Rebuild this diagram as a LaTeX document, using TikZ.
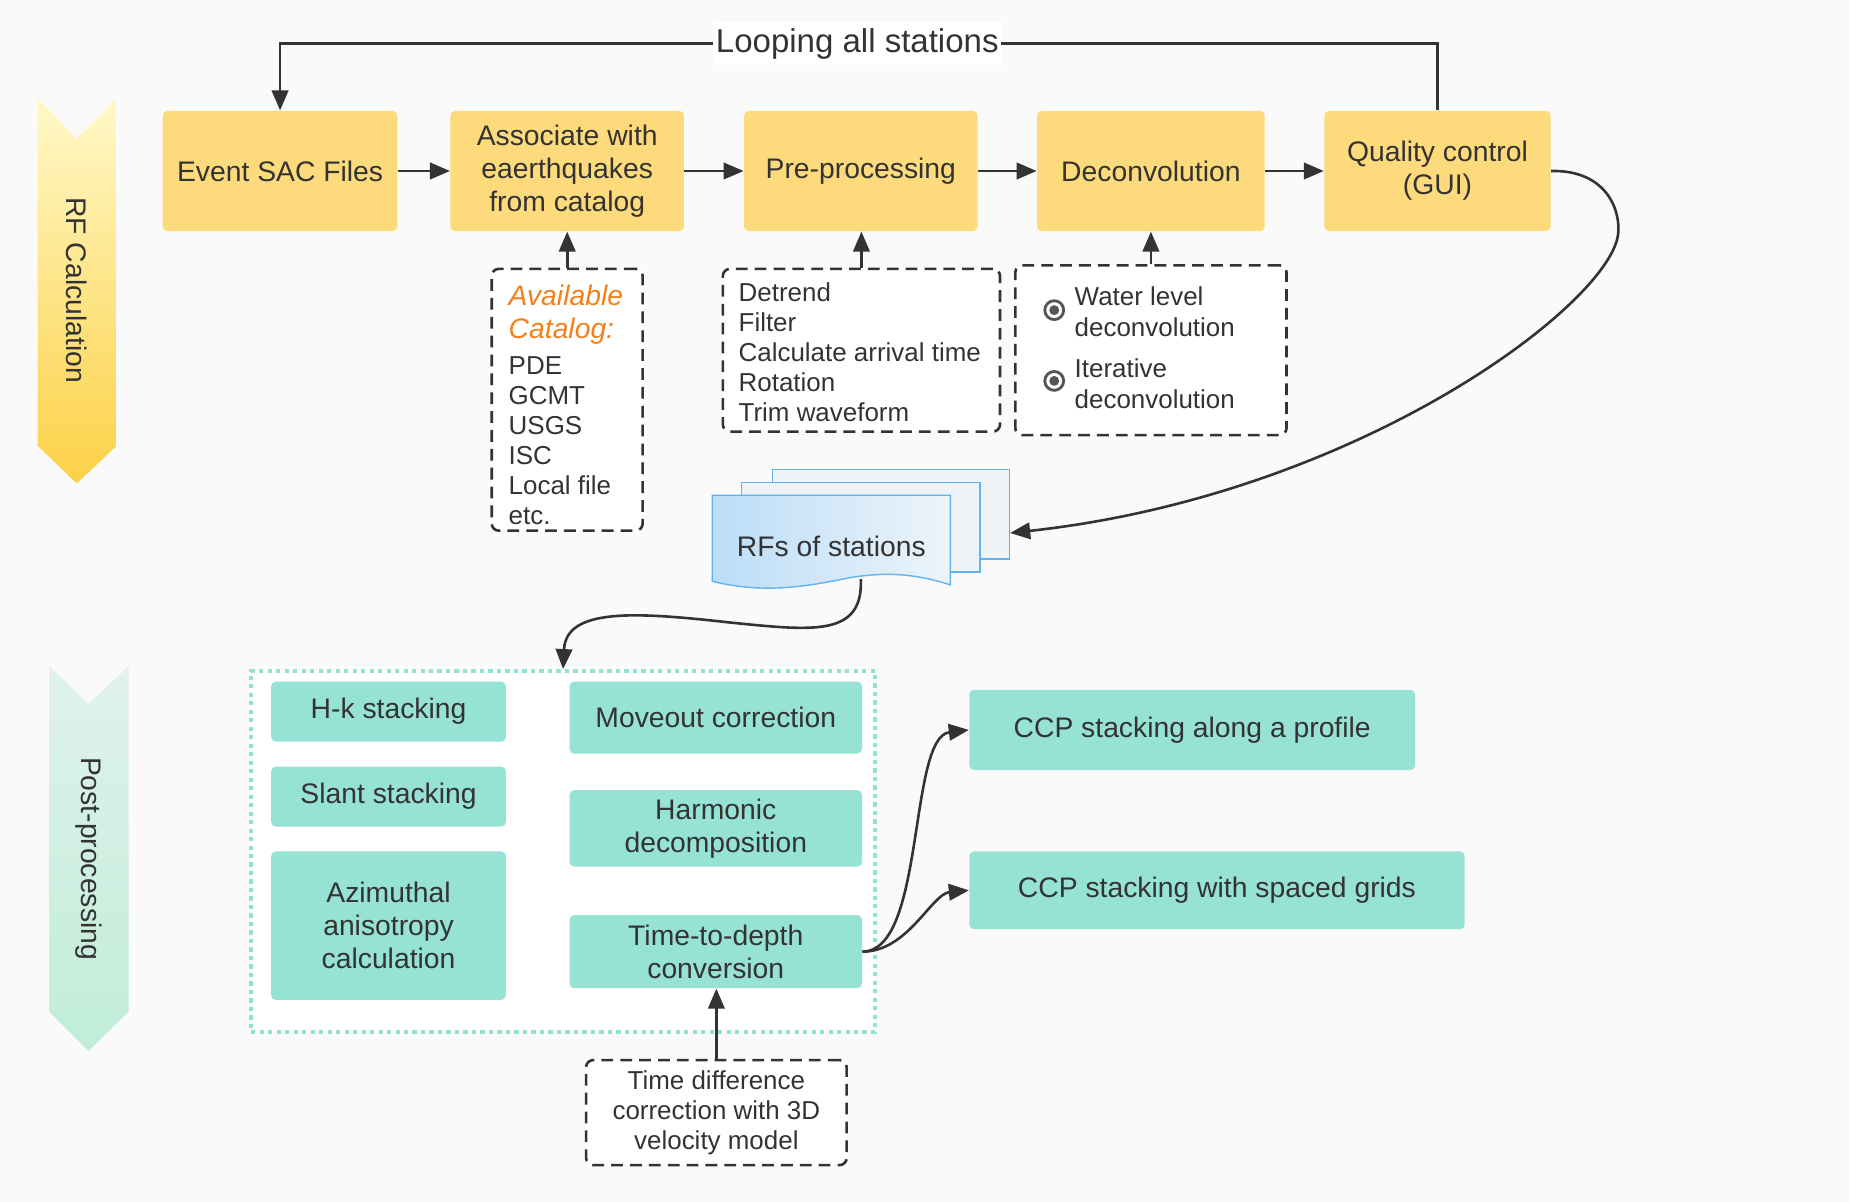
\documentclass[tikz,border=0pt]{standalone}
\usepackage{fontspec}
\setmainfont{Liberation Sans}
\usetikzlibrary{arrows.meta,shapes.geometric}
\definecolor{bg}{HTML}{FAFAFA}
\definecolor{txt}{HTML}{333333}
\definecolor{ybx}{HTML}{FDDA7B}
\definecolor{tl}{HTML}{96E2D4}
\definecolor{org}{HTML}{F2801C}
\definecolor{dotc}{HTML}{8FE2D2}
\definecolor{blu}{HTML}{62B3F2}
\definecolor{sheetc}{HTML}{EEF3F8}
\definecolor{bluL}{HTML}{BBDDF8}
\definecolor{bluR}{HTML}{EDF4FA}
\definecolor{rfT}{HTML}{FFF8C8}
\definecolor{rfB}{HTML}{FCD147}
\definecolor{ppT}{HTML}{E0F2EB}
\definecolor{ppB}{HTML}{C0EDD9}
\definecolor{rad}{HTML}{555555}
\begin{document}
\begin{tikzpicture}[x=0.5pt,y=-0.5pt,
  every node/.style={text=txt},
  ybox/.style={fill=ybx, rounded corners=2pt, align=center, inner sep=0pt, font=\fontsize{12}{14}\selectfont},
  tbox/.style={fill=tl, rounded corners=2pt, align=center, inner sep=0pt, font=\fontsize{12}{14}\selectfont},
  dbox/.style={draw=txt, fill=white, dash pattern=on 5pt off 3pt, line width=1.1pt, rounded corners=3pt, inner sep=0pt, align=center, font=\fontsize{11}{12.75}\selectfont},
  lst/.style={anchor=north west, align=left, inner sep=0pt, font=\fontsize{11}{12.75}\selectfont},
  sheet/.style={fill=sheetc, draw=blu, line width=0.6pt, inner sep=0pt},
  lnk/.style={draw=txt, line width=1.1pt},
  arr/.style={lnk, -{Triangle[length=8.5pt,width=7pt]}},
  radio/.style={circle, draw=rad, line width=1.2pt, fill=white, inner sep=0pt, minimum size=8pt},
  radiodot/.style={circle, fill=rad, inner sep=0pt, minimum size=4.2pt},
  bannertext/.style={rotate=-90, font=\fontsize{12}{14}\selectfont, inner sep=0pt}
]
\useasboundingbox (0,0) rectangle (1568,1019);
\fill[bg] (0,0) rectangle (1568,1019);

% banners
\shade[top color=rfT, bottom color=rfB] (32,83) -- (65,118) -- (99,83) -- (99,378) -- (65,410) -- (32,378) -- cycle;
\node[bannertext] (rfcalc) at (65,246) {RF Calculation};
\shade[top color=ppT, bottom color=ppB] (42,565) -- (75,597) -- (109,565) -- (109,858) -- (75,891) -- (42,858) -- cycle;
\node[bannertext] (postproc) at (75,728) {Post-processing};

% top row
\node[ybox, minimum width=99.5pt, minimum height=51pt] (ev) at (237.5,145) {Event SAC Files};
\node[ybox, minimum width=99pt, minimum height=51pt] (as) at (481,145) {Associate with\\eaerthquakes\\from catalog};
\node[ybox, minimum width=99pt, minimum height=51pt] (pp) at (730,145) {Pre-processing};
\node[ybox, minimum width=96.5pt, minimum height=51pt] (dc) at (976,145) {Deconvolution};
\node[ybox, minimum width=96pt, minimum height=51pt] (qc) at (1219,145) {Quality control\\(GUI)};

\draw[arr] (ev.east) -- (as.west);
\draw[arr] (as.east) -- (pp.west);
\draw[arr] (pp.east) -- (dc.west);
\draw[arr] (dc.east) -- (qc.west);

% loop
\node[fill=white, inner xsep=1pt, inner ysep=0pt, minimum height=18pt, font=\fontsize{14}{16}\selectfont] (lp) at (727,37) {Looping all stations};
\draw[lnk] (qc.north) |- (lp.east);
\draw[arr] (lp.west) -| (ev.north);

% catalog box
\node[dbox, minimum width=64pt, minimum height=111pt] (cb) at (481,339) {};
\node[lst, text=org, font=\itshape\fontsize{12}{14}\selectfont] (cbh) at (431,241) {Available\\Catalog:};
\node[lst] (cbl) at (431,302) {PDE\\GCMT\\USGS\\ISC\\Local file\\etc.};
\draw[arr] (cb.north) -- (as.south);

% preprocessing list
\node[dbox, minimum width=117.5pt, minimum height=69pt] (pb) at (730.5,297) {};
\node[lst] (pbl) at (626,239) {Detrend\\Filter\\Calculate arrival time\\Rotation\\Trim waveform};
\draw[arr] (pb.north) -- (pb.north |- pp.south);

% deconvolution options
\node[dbox, minimum width=115pt, minimum height=72pt] (db) at (976,297) {};
\node[radio] (r1) at (894,263) {};
\node[radiodot] (r1d) at (894,263) {};
\node[radio] (r2) at (894,323) {};
\node[radiodot] (r2d) at (894,323) {};
\node[lst, font=\fontsize{11}{13}\selectfont] (o1) at (911,243) {Water level\\deconvolution};
\node[lst, font=\fontsize{11}{13}\selectfont] (o2) at (911,304) {Iterative\\deconvolution};
\draw[arr] (db.north) -- (dc.south);

% RFs of stations
\node[sheet, minimum width=100.5pt, minimum height=38pt] (rf3) at (755.5,436) {};
\node[sheet, minimum width=101pt, minimum height=38pt] (rf2) at (730,447) {};
\path[draw=blu, line width=0.6pt, left color=bluL, right color=bluR]
  (604,420) -- (806,420) -- (806,496) .. controls (775,486) and (750,485) .. (720,490)
  .. controls (685,497) and (650,504) .. (604,493) -- cycle;
\node[font=\fontsize{12}{14}\selectfont, inner sep=0pt] (rf) at (705,463) {RFs of stations};
\coordinate (rfo) at (730,491);

\draw[arr] (qc.east) .. controls (1365,144) and (1375,182) .. (1372,200)
  .. controls (1362,260) and (1150,420) .. ([yshift=-8pt]rf3.east);

% post-processing container
\node[draw=dotc, line width=1.6pt, dash pattern=on 1.8pt off 1.8pt, fill=white, minimum width=264.5pt, minimum height=153pt, inner sep=0pt] (post) at (477.5,722) {};
\draw[arr] (rfo) .. controls (732,540) and (690,535) .. (620,528)
  .. controls (540,519) and (480,515) .. (post.north);

\node[tbox, minimum width=99.5pt, minimum height=25.5pt] (hk) at (329.5,603.5) {H-k stacking};
\node[tbox, minimum width=99.5pt, minimum height=25.5pt] (sl) at (329.5,675.5) {Slant stacking};
\node[tbox, minimum width=99.5pt, minimum height=63pt] (az) at (329.5,785) {Azimuthal\\anisotropy\\calculation};
\node[tbox, minimum width=124pt, minimum height=30.5pt] (mo) at (607,608.5) {Moveout correction};
\node[tbox, minimum width=124pt, minimum height=32.5pt] (hd) at (607,702.5) {Harmonic\\decomposition};
\node[tbox, minimum width=124pt, minimum height=31pt] (ttd) at (607,807) {Time-to-depth\\conversion};

\node[tbox, minimum width=189pt, minimum height=34pt] (ccp1) at (1011,619) {CCP stacking along a profile};
\node[tbox, minimum width=210pt, minimum height=33pt] (ccp2) at (1032,755) {CCP stacking with spaced grids};

\draw[arr] (ttd.east) .. controls (785,807) and (770,625) .. (ccp1.west);
\draw[arr] (ttd.east) .. controls (770,807) and (790,758) .. (ccp2.west);

% time difference
\node[dbox, minimum width=110.5pt, minimum height=44.5pt] (td) at (607.5,943.5) {Time difference\\correction with 3D\\velocity model};
\draw[arr] (td.north) -- (td.north |- ttd.south);
\end{tikzpicture}
\end{document}
